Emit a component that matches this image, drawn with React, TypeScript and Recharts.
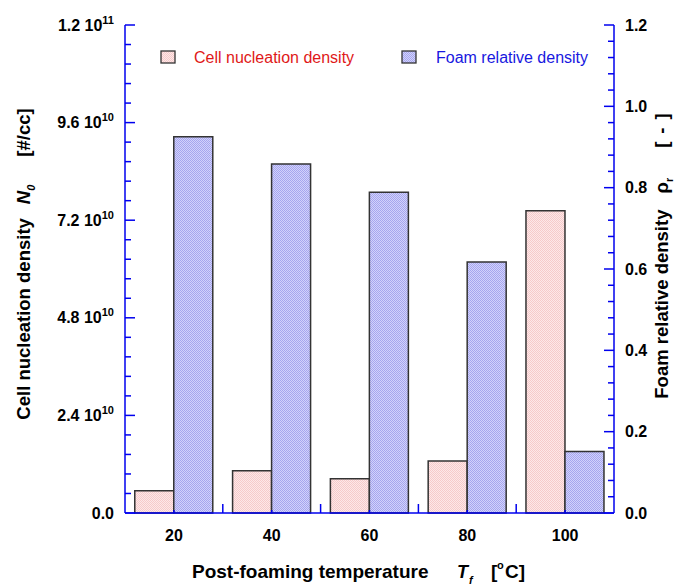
import React from "react";
import { BarChart, Bar, XAxis, YAxis } from "recharts";

// post-foaming temperature categories
const TEMPS = ["20", "40", "60", "80", "100"];
// cell nucleation density N0 [#/cc]
const NUCLEATION = [0.55e10, 1.04e10, 0.84e10, 1.28e10, 7.43e10];
// foam relative density rho_r [-]
const REL_DENSITY = [0.925, 0.858, 0.789, 0.617, 0.151];

const LEFT_MAJOR = [0, 2.4e10, 4.8e10, 7.2e10, 9.6e10, 1.2e11];
const LEFT_MANTISSA = ["0.0", "2.4", "4.8", "7.2", "9.6", "1.2"];
const LEFT_EXP = ["", "10", "10", "10", "10", "11"];
const RIGHT_MAJOR = [0, 0.2, 0.4, 0.6, 0.8, 1.0, 1.2];
const RIGHT_LABELS = ["0.0", "0.2", "0.4", "0.6", "0.8", "1.0", "1.2"];
const MINOR_DIV = 5;

const W = 676;
const H = 586;
const PLOT_LEFT = 125;
const PLOT_RIGHT = 614;
const PLOT_TOP = 25;
const PLOT_BOTTOM = 513;
const BAND = (PLOT_RIGHT - PLOT_LEFT) / TEMPS.length;

const AXIS = "#0000ee";
const FONT = "'Liberation Sans', Arial, Helvetica, sans-serif";

function withMinor(major: number[]) {
  const out: number[] = [];
  for (let i = 0; i < major.length - 1; i++) {
    for (let k = 0; k < MINOR_DIV; k++) {
      out.push(major[i] + ((major[i + 1] - major[i]) * k) / MINOR_DIV);
    }
  }
  out.push(major[major.length - 1]);
  return out;
}

const data = TEMPS.map((t, i) => ({
  temp: t,
  nucleation: NUCLEATION[i],
  density: REL_DENSITY[i],
}));

// ticks point inward, so they are drawn here from the axis position
function LeftTick(props: any) {
  const { y, index } = props;
  const x = PLOT_LEFT;
  const major = index % MINOR_DIV === 0;
  const m = index / MINOR_DIV;
  return (
    <g>
      <line x1={x} x2={x + (major ? 10 : 6)} y1={y} y2={y} stroke={AXIS} strokeWidth={1.5} />
      {major && (
        <text
          x={x - 11}
          y={y + 5.5}
          textAnchor="end"
          fontFamily={FONT}
          fontWeight="bold"
          fontSize={16}
          fill="#000"
        >
          {LEFT_EXP[m] ? `${LEFT_MANTISSA[m]} 10` : LEFT_MANTISSA[m]}
          {LEFT_EXP[m] && (
            <tspan dy={-7} fontSize={11}>
              {LEFT_EXP[m]}
            </tspan>
          )}
        </text>
      )}
    </g>
  );
}

function RightTick(props: any) {
  const { y, index } = props;
  const x = PLOT_RIGHT;
  const major = index % MINOR_DIV === 0;
  const m = index / MINOR_DIV;
  return (
    <g>
      <line x1={x} x2={x - (major ? 10 : 6)} y1={y} y2={y} stroke={AXIS} strokeWidth={1.5} />
      {major && (
        <text
          x={x + 11}
          y={y + 5.5}
          textAnchor="start"
          fontFamily={FONT}
          fontWeight="bold"
          fontSize={16}
          fill="#000"
        >
          {RIGHT_LABELS[m]}
        </text>
      )}
    </g>
  );
}

function BottomTick(props: any) {
  const { x, index, payload } = props;
  const y = PLOT_BOTTOM;
  return (
    <g>
      <line x1={x} x2={x} y1={y} y2={y - 3} stroke={AXIS} strokeWidth={1.5} />
      {index > 0 && (
        <line
          x1={x - BAND / 2}
          x2={x - BAND / 2}
          y1={y}
          y2={y - 9}
          stroke={AXIS}
          strokeWidth={1.5}
        />
      )}
      <text
        x={x}
        y={y + 28}
        textAnchor="middle"
        fontFamily={FONT}
        fontWeight="bold"
        fontSize={16}
        fill="#000"
      >
        {payload.value}
      </text>
    </g>
  );
}

function TopTick(props: any) {
  const { x, index } = props;
  const y = PLOT_TOP;
  if (index === 0) return <g />;
  return (
    <line
      x1={x - BAND / 2}
      x2={x - BAND / 2}
      y1={y}
      y2={y + 9}
      stroke={AXIS}
      strokeWidth={1.5}
    />
  );
}

export default function App() {
  return (
    <div style={{ position: "absolute", left: 0, top: 0, width: W, height: H, background: "#fff" }}>
      <svg width={0} height={0} style={{ position: "absolute" }}>
        <defs>
          <pattern id="pinkDots" width={2} height={2} patternUnits="userSpaceOnUse">
            <rect width={2} height={2} fill="#fde8e8" />
            <rect width={1} height={1} fill="#f6caca" />
            <rect x={1} y={1} width={1} height={1} fill="#f6caca" />
          </pattern>
          <pattern id="blueDots" width={2} height={2} patternUnits="userSpaceOnUse">
            <rect width={2} height={2} fill="#d2d2fb" />
            <rect width={1} height={1} fill="#a6a6ee" />
            <rect x={1} y={1} width={1} height={1} fill="#a6a6ee" />
          </pattern>
        </defs>
      </svg>

      <BarChart
        width={W}
        height={H}
        data={data}
        margin={{ top: PLOT_TOP, right: 0, bottom: 0, left: 0 }}
        barCategoryGap="10%"
        barGap={0}
      >
        <XAxis
          dataKey="temp"
          xAxisId="bottom"
          height={H - PLOT_BOTTOM}
          interval={0}
          tickSize={0}
          tickMargin={0}
          tickLine={false}
          axisLine={{ stroke: AXIS, strokeWidth: 1.5 }}
          tick={<BottomTick />}
        />
        <XAxis
          dataKey="temp"
          xAxisId="top"
          orientation="top"
          height={0}
          interval={0}
          tickSize={0}
          tickMargin={0}
          tickLine={false}
          axisLine={{ stroke: AXIS, strokeWidth: 1.5 }}
          tick={<TopTick />}
        />
        <YAxis
          yAxisId="n"
          width={PLOT_LEFT}
          domain={[0, 1.2e11]}
          ticks={withMinor(LEFT_MAJOR)}
          interval={0}
          tickSize={0}
          tickMargin={0}
          tickLine={false}
          axisLine={{ stroke: AXIS, strokeWidth: 1.5 }}
          tick={<LeftTick />}
        />
        <YAxis
          yAxisId="r"
          orientation="right"
          width={W - PLOT_RIGHT}
          domain={[0, 1.2]}
          ticks={withMinor(RIGHT_MAJOR)}
          interval={0}
          tickSize={0}
          tickMargin={0}
          tickLine={false}
          axisLine={{ stroke: AXIS, strokeWidth: 1.5 }}
          tick={<RightTick />}
        />
        <Bar
          dataKey="nucleation"
          xAxisId="bottom"
          yAxisId="n"
          fill="url(#pinkDots)"
          stroke="#333"
          strokeWidth={1.5}
          isAnimationActive={false}
        />
        <Bar
          dataKey="density"
          xAxisId="bottom"
          yAxisId="r"
          fill="url(#blueDots)"
          stroke="#333"
          strokeWidth={1.5}
          isAnimationActive={false}
        />
      </BarChart>

      <svg
        width={W}
        height={H}
        style={{ position: "absolute", left: 0, top: 0, pointerEvents: "none" }}
        fontFamily={FONT}
      >
        {/* legend */}
        <rect x={161} y={51} width={14} height={12} fill="url(#pinkDots)" stroke="#333" strokeWidth={1.3} />
        <text x={194} y={63} fontSize={16} fill="#e01818">
          Cell nucleation density
        </text>
        <rect x={402} y={51} width={14} height={12} fill="url(#blueDots)" stroke="#333" strokeWidth={1.3} />
        <text x={436} y={63} fontSize={16} fill="#1818e0">
          Foam relative density
        </text>

        {/* left axis title */}
        <text
          transform="translate(30,264) rotate(-90)"
          textAnchor="middle"
          fontSize={18.5}
          fontWeight="bold"
          fill="#000"
        >
          Cell nucleation density
          <tspan dx={14} fontStyle="italic">N</tspan>
          <tspan dy={5} fontSize={11} fontStyle="italic">0</tspan>
          <tspan dx={28} dy={-5}>[#/cc]</tspan>
        </text>

        {/* right axis title */}
        <text
          transform="translate(668,256) rotate(-90)"
          textAnchor="middle"
          fontSize={18.5}
          fontWeight="bold"
          fill="#000"
        >
          Foam relative density
          <tspan dx={16}>ρ</tspan>
          <tspan dy={5} fontSize={11}>r</tspan>
          <tspan dx={30} dy={-5}>[</tspan>
          <tspan dx={8}>-</tspan>
          <tspan dx={8}>]</tspan>
        </text>

        {/* bottom axis title */}
        <text y={578} fontSize={19} fontWeight="bold" fill="#000">
          <tspan x={192}>Post-foaming temperature</tspan>
          <tspan x={457} fontStyle="italic" fontSize={18}>T</tspan>
          <tspan x={469} dy={6} fontStyle="italic" fontSize={11}>f</tspan>
          <tspan x={491} dy={-6}>[</tspan>
          <tspan x={497} dy={-9} fontSize={11}>o</tspan>
          <tspan x={505} dy={9}>C]</tspan>
        </text>
      </svg>
    </div>
  );
}
